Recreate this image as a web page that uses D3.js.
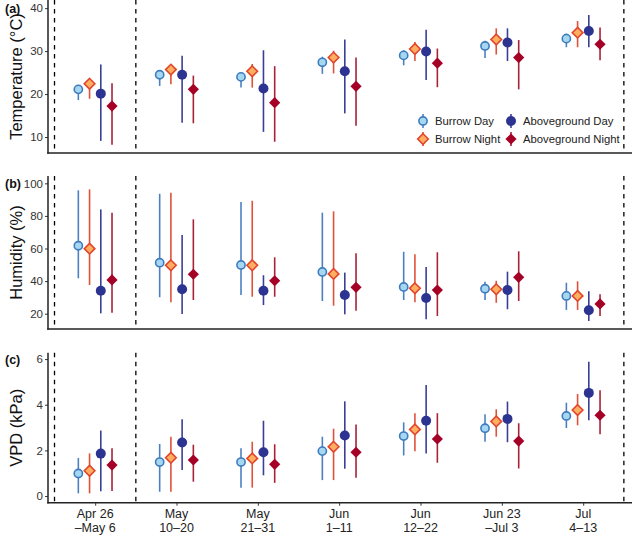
<!DOCTYPE html>
<html><head><meta charset="utf-8">
<script src="https://cdn.jsdelivr.net/npm/d3@7"></script>
<style>body{margin:0;background:#fff} svg{display:block;font-family:"Liberation Sans",Arial,Helvetica,sans-serif}</style>
</head><body><svg id="chart" width="632" height="536"></svg>
<script>
// ---- data ----
const categories = [["Apr 26","\u2013May 6"],["May","10\u201320"],["May","21\u201331"],["Jun","1\u201311"],["Jun","12\u201322"],["Jun 23","\u2013Jul 3"],["Jul","4\u201313"]];
const seriesNames = ["Burrow Day","Burrow Night","Aboveground Day","Aboveground Night"];
const vlinePositions = [0.5, 1.5, 7.5];

// each entry: [mean, lower, upper]
const tempBurrowDay   = [[21.1,18.6,21.9],[24.5,21.9,25.3],[24.0,21.5,24.8],[27.4,24.7,28.7],[29.0,26.7,30.2],[31.2,28.4,32.4],[32.9,30.9,34.1]];
const tempBurrowNight = [[22.4,18.9,23.2],[25.7,22.3,27.0],[25.3,21.5,27.0],[28.5,24.8,30.1],[30.5,27.7,32.1],[32.7,29.2,35.3],[34.3,30.9,37.0]];
const tempAboveDay    = [[20.1,9.1,26.9],[24.5,13.3,28.9],[21.3,11.2,30.2],[25.3,15.5,32.7],[29.9,23.3,35.0],[32.0,27.7,35.3],[34.7,30.9,38.4]];
const tempAboveNight  = [[17.2,8.2,22.5],[21.1,13.2,24.3],[18.0,8.9,26.5],[21.8,12.6,28.5],[27.2,21.6,30.6],[28.5,21.1,32.6],[31.6,27.9,35.5]];

const humBurrowDay    = [[61.7,41.7,95.7],[51.3,30.1,93.6],[49.9,31.5,88.5],[45.6,27.8,82.0],[36.4,28.4,58.0],[35.3,28.4,39.6],[30.9,22.3,39.0]];
const humBurrowNight  = [[59.9,37.6,96.3],[49.7,27.0,94.2],[49.7,30.4,89.3],[44.4,24.9,82.8],[35.6,27.0,56.4],[35.0,26.7,40.2],[30.9,22.3,39.9]];
const humAboveDay     = [[34.1,20.2,84.0],[35.0,19.8,68.3],[34.1,25.3,43.6],[31.5,19.6,45.2],[29.6,16.6,48.7],[34.5,22.7,45.8],[22.1,15.5,33.7]];
const humAboveNight   = [[40.7,20.6,82.0],[44.2,28.4,77.9],[40.2,30.4,54.6],[36.2,21.8,57.1],[34.5,18.6,57.7],[42.3,27.8,58.3],[26.0,18.6,31.9]];

const vpdBurrowDay    = [[0.99,0.12,1.67],[1.49,0.19,2.28],[1.49,0.37,2.10],[1.97,0.70,2.60],[2.63,1.78,3.23],[2.97,2.38,3.58],[3.51,2.98,4.09]];
const vpdBurrowNight  = [[1.11,0.12,1.87],[1.68,0.19,2.60],[1.65,0.37,2.38],[2.16,0.70,2.95],[2.92,1.96,3.63],[3.27,2.60,3.80],[3.77,3.10,4.47]];
const vpdAboveDay     = [[1.86,0.21,2.87],[2.35,1.14,3.36],[1.92,0.91,3.30],[2.65,1.20,4.15],[3.30,1.87,4.87],[3.38,2.36,4.14],[4.52,3.32,5.88]];
const vpdAboveNight   = [[1.36,0.22,2.10],[1.58,0.63,2.25],[1.39,0.58,2.27],[1.92,0.80,3.13],[2.50,1.46,3.63],[2.41,1.21,3.19],[3.54,2.71,4.64]];

const tempTicks = [10,20,30,40];
const humTicks  = [20,40,60,80,100];
const vpdTicks  = [0,2,4,6];

// ---- styles ----
const styles = [
  {shape:"circle",  fill:"#a6d7f0", stroke:"#3f7cbf", bar:"#4a80c2", sw:1.6, r:4.1},
  {shape:"diamond", fill:"#fdae61", stroke:"#e2452c", bar:"#e0513a", sw:1.6, r:5.3},
  {shape:"circle",  fill:"#2c3391", stroke:"#2c3391", bar:"#3a3f96", sw:0,   r:5.0},
  {shape:"diamond", fill:"#a50026", stroke:"#a50026", bar:"#a8223a", sw:0,   r:5.6}
];
const dodge = [-0.207,-0.069,0.069,0.207];

const panels = [
  {label:"(a)", labelY:13, title:"Temperature (\u00B0C)", domain:[6.28,41.9], top:0, bottom:153, ticks:tempTicks,
   series:[tempBurrowDay,tempBurrowNight,tempAboveDay,tempAboveNight]},
  {label:"(b)", labelY:187.5, title:"Humidity (%)", domain:[10.6,104.5], top:176, bottom:329, ticks:humTicks,
   series:[humBurrowDay,humBurrowNight,humAboveDay,humAboveNight]},
  {label:"(c)", labelY:363.5, title:"VPD (kPa)", domain:[-0.29,6.28], top:352.7, bottom:502.7, ticks:vpdTicks,
   series:[vpdBurrowDay,vpdBurrowNight,vpdAboveDay,vpdAboveNight]}
];

const svg = d3.select("#chart");
const left = 48, right = 632;
const x = d3.scaleLinear().domain([0.42, 7.6]).range([left, right]);

function marker(g, st, cx, cy) {
  if (st.shape === "circle") {
    g.append("circle").attr("cx", cx).attr("cy", cy).attr("r", st.r)
      .attr("fill", st.fill).attr("stroke", st.stroke).attr("stroke-width", st.sw);
  } else {
    const s = st.r;
    g.append("path").attr("d", `M${cx},${cy-s}L${cx+s},${cy}L${cx},${cy+s}L${cx-s},${cy}Z`)
      .attr("fill", st.fill).attr("stroke", st.stroke).attr("stroke-width", st.sw).attr("stroke-linejoin","miter");
  }
}

panels.forEach((p, pi) => {
  const y = d3.scaleLinear().domain(p.domain).range([p.bottom, p.top]);
  const g = svg.append("g");

  // dashed vertical lines
  vlinePositions.forEach(v => {
    g.append("line").attr("x1", x(v)).attr("x2", x(v)).attr("y1", p.top).attr("y2", p.bottom)
      .attr("stroke", "#000").attr("stroke-width", 1.3).attr("stroke-dasharray", "4.5,4.5");
  });

  // y axis
  const yAxis = d3.axisLeft(y).tickValues(p.ticks).tickSize(3).tickPadding(2).tickFormat(d3.format("d"));
  const ya = g.append("g").attr("transform", `translate(${left},0)`).call(yAxis);
  ya.select(".domain").remove();
  ya.selectAll(".tick line").attr("stroke", "#333").attr("stroke-width", 1);
  ya.selectAll(".tick text").attr("font-size", 11.5).attr("fill", "#333").attr("font-family", "inherit");

  // axis lines
  g.append("line").attr("x1", left).attr("x2", left).attr("y1", p.top).attr("y2", p.bottom + 0.75)
    .attr("stroke", "#222").attr("stroke-width", 1.5);
  g.append("line").attr("x1", left - 0.75).attr("x2", right).attr("y1", p.bottom).attr("y2", p.bottom)
    .attr("stroke", "#222").attr("stroke-width", 1.5);

  // x ticks on last panel only
  if (pi === panels.length - 1) {
    const xAxis = d3.axisBottom(x).tickValues(d3.range(1, categories.length + 1)).tickSize(3).tickFormat("");
    const xa = g.append("g").attr("transform", `translate(0,${p.bottom})`).call(xAxis);
    xa.select(".domain").remove();
    xa.selectAll(".tick line").attr("stroke", "#333");
    categories.forEach((c, i) => {
      const t = g.append("text").attr("x", x(i + 1)).attr("text-anchor", "middle")
        .attr("font-size", 12.5).attr("fill", "#222");
      t.append("tspan").attr("x", x(i + 1)).attr("y", 518).text(c[0]);
      t.append("tspan").attr("x", x(i + 1)).attr("y", 531.5).text(c[1]);
    });
  }

  // titles
  g.append("text").attr("transform", `translate(22,${(p.top + p.bottom) / 2}) rotate(-90)`)
    .attr("text-anchor", "middle").attr("font-size", 16.5).attr("fill", "#111").text(p.title);
  g.append("text").attr("x", 5).attr("y", p.labelY).attr("font-size", 12.5)
    .attr("font-weight", "bold").attr("fill", "#111").text(p.label);

  // point ranges
  p.series.forEach((ser, si) => {
    const st = styles[si];
    const sg = g.append("g");
    ser.forEach((d, i) => {
      const cx = x(i + 1 + dodge[si]);
      sg.append("line").attr("x1", cx).attr("x2", cx).attr("y1", y(d[1])).attr("y2", y(d[2]))
        .attr("stroke", st.bar).attr("stroke-width", 1.6);
    });
    ser.forEach((d, i) => {
      marker(sg, st, x(i + 1 + dodge[si]), y(d[0]));
    });
  });
});

// legend
const legendPos = [[423,121],[423,139],[511,121],[511,139]];
seriesNames.forEach((name, i) => {
  const st = styles[i];
  const [lx, ly] = legendPos[i];
  const lg = svg.append("g");
  lg.append("line").attr("x1", lx).attr("x2", lx).attr("y1", ly - 7).attr("y2", ly + 7)
    .attr("stroke", st.bar).attr("stroke-width", 1.6);
  marker(lg, st, lx, ly);
  lg.append("text").attr("x", lx + 12).attr("y", ly + 4).attr("font-size", 11.3).attr("fill", "#222").text(name);
});
</script>
</body></html>
